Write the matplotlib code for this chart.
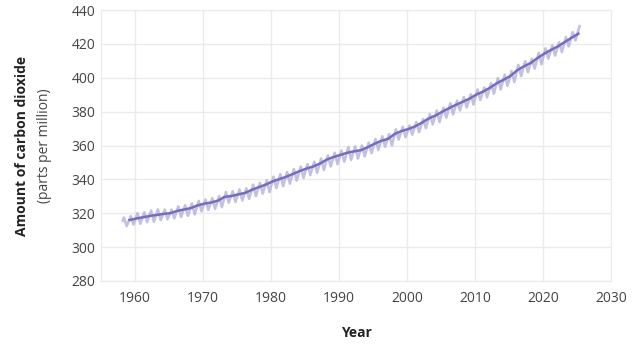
import matplotlib.pyplot as plt
import numpy as np

plt.rcParams['font.family'] = ['Open Sans', 'DejaVu Sans']

# annual mean CO2 (ppm), used for the smooth trend line
trend_years = np.arange(1959, 2026)
trend_ppm = [315.98, 316.91, 317.64, 318.45, 318.99, 319.62, 320.04, 321.37,
             322.18, 323.05, 324.62, 325.68, 326.32, 327.46, 329.68, 330.19,
             331.13, 332.03, 333.84, 335.41, 336.84, 338.76, 340.12, 341.48,
             343.15, 344.87, 346.35, 347.61, 349.31, 351.69, 353.20, 354.45,
             355.70, 356.54, 357.21, 358.96, 360.97, 362.74, 363.88, 366.84,
             368.54, 369.71, 371.32, 373.45, 375.98, 377.70, 379.98, 382.09,
             384.02, 385.83, 387.64, 390.10, 391.85, 394.06, 396.74, 398.81,
             401.01, 404.41, 406.76, 408.72, 411.66, 414.24, 416.45, 418.56,
             421.08, 423.6, 426.0]

# seasonal cycle: spring maximum and autumn minimum for each year
peak_years = np.arange(1958, 2026)
peak_ppm = [317.5, 318.3, 320.0, 320.6, 321.6, 322.3, 322.2, 322.2, 324.0,
            324.7, 325.7, 327.3, 328.1, 328.9, 330.1, 332.5, 333.0, 334.0,
            334.7, 336.8, 338.0, 339.5, 341.5, 343.0, 344.3, 346.0, 347.6,
            349.0, 350.4, 352.3, 354.2, 355.7, 357.0, 359.0, 359.5, 360.0,
            361.7, 363.8, 365.4, 366.8, 369.5, 371.0, 371.8, 373.8, 375.6,
            378.5, 380.6, 382.3, 384.9, 386.4, 388.5, 390.2, 393.1, 394.2,
            396.8, 399.8, 401.8, 403.9, 407.6, 409.7, 411.2, 414.7, 417.3,
            419.1, 420.9, 424.0, 426.9, 430.5]
trough_years = np.arange(1958, 2025)
trough_ppm = [312.4, 313.3, 313.8, 314.8, 315.0, 315.9, 316.4, 317.0, 317.8,
              318.5, 319.3, 321.2, 322.0, 322.6, 323.7, 326.3, 326.7, 327.6,
              328.5, 330.1, 331.6, 332.5, 334.9, 336.0, 337.5, 339.3, 340.9,
              342.6, 343.9, 345.6, 347.6, 349.0, 350.5, 351.5, 352.3, 353.6,
              355.5, 357.4, 359.3, 360.0, 363.5, 364.9, 366.4, 367.9, 370.2,
              372.5, 373.9, 376.5, 378.4, 380.7, 382.5, 384.2, 386.9, 388.5,
              390.6, 393.1, 395.3, 397.5, 401.0, 403.3, 405.4, 408.0, 411.3,
              413.1, 415.2, 418.5, 422.0]
first_month_ppm = 315.7  # March 1958

# interleave maxima (May) and minima (Oct) into one seasonal line
t = [1958.2]
v = [first_month_ppm]
for i, y in enumerate(peak_years):
    t.append(y + 0.37)
    v.append(peak_ppm[i])
    if i < len(trough_years):
        t.append(trough_years[i] + 0.78)
        v.append(trough_ppm[i])

W, H = 639, 353
fig = plt.figure(figsize=(W / 100, H / 100), dpi=100)
ax = fig.add_axes([101 / W, (H - 281) / H, 510 / W, 271 / H])

ax.plot(t, v, color='#b4b2dc', lw=1.9, alpha=0.8, solid_joinstyle='round')
ax.plot(trend_years + 0.2, trend_ppm, color='#756dba', lw=1.8)

ax.set_xlim(1955, 2030)
ax.set_ylim(280, 440)
ax.set_xticks(np.arange(1960, 2031, 10))
ax.set_yticks(np.arange(280, 441, 20))
ax.grid(True, color='#ebebeb', lw=1)
ax.set_axisbelow(True)
for s in ax.spines.values():
    s.set_color('#ebebeb')
ax.tick_params(length=0, labelsize=10, labelcolor='#444444')
ax.tick_params(axis='x', pad=7)
ax.tick_params(axis='y', pad=4)

fig.text(22 / W, 1 - 146 / H, 'Amount of carbon dioxide', rotation=90,
         ha='center', va='center', fontsize=10, fontweight='bold', color='#222222')
fig.text(44 / W, 1 - 146 / H, '(parts per million)', rotation=90,
         ha='center', va='center', fontsize=10, color='#444444')
fig.text(356 / W, 1 - 333 / H, 'Year', ha='center', va='center',
         fontsize=10, fontweight='bold', color='#222222')

fig.savefig('out.png', dpi=100)
